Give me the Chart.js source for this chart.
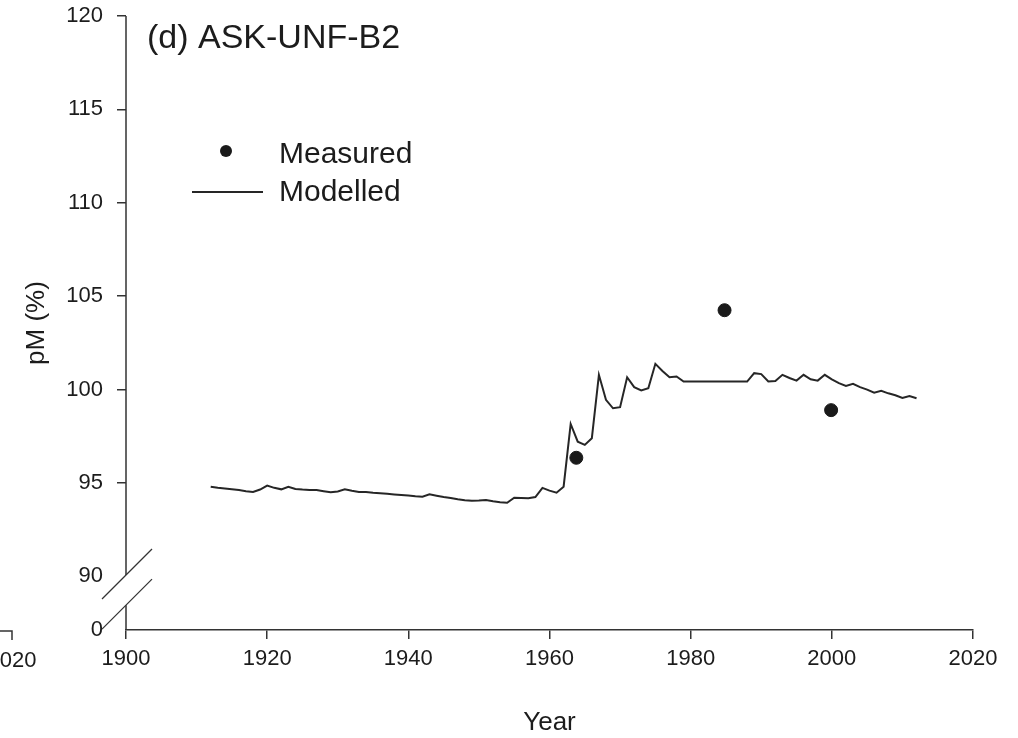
<!DOCTYPE html>
<html>
<head>
<meta charset="utf-8">
<script src="https://cdn.jsdelivr.net/npm/chart.js@4.4.1/dist/chart.umd.min.js"></script>
<style>
  html, body { margin: 0; padding: 0; background: #fff; }
</style>
</head>
<body>
<canvas id="grafico" width="1018" height="738"></canvas>
<script>
// modelled pM, one value per year
var modelYears = [
  1912, 1913, 1914, 1915, 1916, 1917, 1918, 1919, 1920, 1921,
  1922, 1923, 1924, 1925, 1926, 1927, 1928, 1929, 1930, 1931,
  1932, 1933, 1934, 1935, 1936, 1937, 1938, 1939, 1940, 1941,
  1942, 1943, 1944, 1945, 1946, 1947, 1948, 1949, 1950, 1951,
  1952, 1953, 1954, 1955, 1956, 1957, 1958, 1959, 1960, 1961,
  1962, 1963, 1964, 1965, 1966, 1967, 1968, 1969, 1970, 1971,
  1972, 1973, 1974, 1975, 1976, 1977, 1978, 1979, 1980, 1981,
  1982, 1983, 1984, 1985, 1986, 1987, 1988, 1989, 1990, 1991,
  1992, 1993, 1994, 1995, 1996, 1997, 1998, 1999, 2000, 2001,
  2002, 2003, 2004, 2005, 2006, 2007, 2008, 2009, 2010, 2011,
  2012
];
var modelPm = [
  94.80, 94.74, 94.70, 94.66, 94.62, 94.56, 94.52, 94.65, 94.86, 94.74,
  94.66, 94.80, 94.68, 94.65, 94.63, 94.62, 94.56, 94.50, 94.55, 94.66,
  94.58, 94.52, 94.52, 94.48, 94.45, 94.42, 94.39, 94.36, 94.33, 94.29,
  94.27, 94.39, 94.32, 94.25, 94.20, 94.13, 94.08, 94.05, 94.06, 94.09,
  94.02, 93.97, 93.94, 94.21, 94.20, 94.18, 94.25, 94.74, 94.59, 94.48,
  94.80, 98.16, 97.21, 97.04, 97.40, 100.79, 99.45, 99.00, 99.06, 100.66,
  100.13, 99.95, 100.07, 101.38, 101.00, 100.66, 100.70, 100.43, 100.43, 100.43,
  100.43, 100.43, 100.43, 100.43, 100.43, 100.43, 100.43, 100.88, 100.83, 100.43,
  100.46, 100.79, 100.62, 100.48, 100.79, 100.55, 100.48, 100.79, 100.55, 100.35,
  100.20, 100.31, 100.13, 100.00, 99.83, 99.93, 99.80, 99.70, 99.55, 99.66,
  99.54
];

// measured samples
var measuredYears = [1963.8, 1984.8, 1999.9];
var measuredPm = [96.35, 104.25, 98.9];

// axis ticks; the y axis is broken below 90 and its bottom stands for 0
var xTicks = [1900, 1920, 1940, 1960, 1980, 2000, 2020];
var yTicks = [90, 95, 100, 105, 110, 115, 120];
var yBottom = 87.13;
var yBottomLabel = '0';
var gapTop = 90.07, gapBottom = 88.46;

var panelTitle = '(d) ASK-UNF-B2';
var xTitle = 'Year';
var yTitle = 'pM (%)';
var cutLabel = '2020';

var ink = '#1c1c1c';
var fuente = "'Liberation Sans', Arial, sans-serif";

function pares(xs, ys){
  return xs.map(function(x, i){ return {x: x, y: ys[i]}; });
}

// y axis line with the break, panel title, legend and the cut-off neighbour axis
var decorado = {
  id: 'decorado',
  afterDraw: function(chart){
    var ctx = chart.ctx;
    var ys = chart.scales.y, xs = chart.scales.x;
    var a = chart.chartArea;
    ctx.save();
    ctx.strokeStyle = '#333';
    ctx.lineWidth = 1.5;

    var gTop = ys.getPixelForValue(gapTop);
    var gBot = ys.getPixelForValue(gapBottom);
    ctx.beginPath();
    ctx.moveTo(a.left, a.top); ctx.lineTo(a.left, gTop);
    ctx.moveTo(a.left, gBot); ctx.lineTo(a.left, a.bottom);
    ctx.stroke();

    // break marks
    ctx.lineWidth = 1.3;
    [gTop, gBot].forEach(function(py){
      ctx.beginPath();
      ctx.moveTo(a.left - 24, py + 24);
      ctx.lineTo(a.left + 26, py - 26);
      ctx.stroke();
    });

    // neighbouring panel edge
    var by = xs.top + 1;
    ctx.lineWidth = 1.5;
    ctx.beginPath();
    ctx.moveTo(0, by); ctx.lineTo(12, by); ctx.lineTo(12, by + 9);
    ctx.stroke();
    ctx.fillStyle = ink;
    ctx.font = '22px ' + fuente;
    ctx.textAlign = 'center';
    ctx.textBaseline = 'middle';
    ctx.fillText(cutLabel, 12, 661);

    // panel title
    ctx.textAlign = 'left';
    ctx.textBaseline = 'alphabetic';
    ctx.font = '34px ' + fuente;
    ctx.fillText(panelTitle, 147, 48);

    // legend
    var dsM = chart.data.datasets[0], dsL = chart.data.datasets[1];
    ctx.font = '30px ' + fuente;
    ctx.textBaseline = 'middle';
    ctx.fillStyle = dsM.backgroundColor;
    ctx.beginPath();
    ctx.arc(226, 151, 6, 0, Math.PI * 2);
    ctx.fill();
    ctx.fillStyle = ink;
    ctx.fillText(dsM.label, 279, 155);
    ctx.strokeStyle = dsL.borderColor;
    ctx.lineWidth = dsL.borderWidth;
    ctx.beginPath();
    ctx.moveTo(192, 192); ctx.lineTo(263, 192);
    ctx.stroke();
    ctx.fillText(dsL.label, 279, 193);
    ctx.restore();
  }
};

var grafico = new Chart(document.getElementById('grafico'), {
  type: 'scatter',
  data: {
    datasets: [
      {
        label: 'Measured',
        data: pares(measuredYears, measuredPm),
        backgroundColor: '#1a1a1a',
        borderColor: '#1a1a1a',
        pointRadius: 6.5,
        pointHoverRadius: 6.5,
        showLine: false
      },
      {
        label: 'Modelled',
        data: pares(modelYears, modelPm),
        borderColor: '#262626',
        borderWidth: 2,
        pointRadius: 0,
        showLine: true,
        tension: 0
      }
    ]
  },
  options: {
    responsive: false,
    animation: false,
    layout: { padding: { left: 0, right: 45, top: 16, bottom: 0 } },
    plugins: { legend: { display: false }, tooltip: { enabled: false } },
    scales: {
      x: {
        type: 'linear',
        min: xTicks[0],
        max: xTicks[xTicks.length - 1],
        afterBuildTicks: function(s){ s.ticks = xTicks.map(function(v){ return {value: v}; }); },
        afterFit: function(s){ s.height = 108; },
        grid: { drawOnChartArea: false, drawTicks: true, tickLength: 9, tickColor: '#333', lineWidth: 1.5 },
        border: { display: true, color: '#333', width: 1.5 },
        ticks: {
          color: ink, font: { family: fuente, size: 22 }, padding: 7, maxRotation: 0,
          callback: function(v){ return String(v); }
        },
        title: { display: true, text: xTitle, color: ink, font: { family: fuente, size: 26 }, padding: { top: 0, bottom: 0 } }
      },
      y: {
        type: 'linear',
        min: yBottom,
        max: yTicks[yTicks.length - 1],
        afterBuildTicks: function(s){
          s.ticks = [{value: yBottom}].concat(yTicks.map(function(v){ return {value: v}; }));
        },
        afterFit: function(s){
          s.width = 126;
          s.paddingTop = 0;
          s.paddingBottom = 0;
        },
        grid: {
          drawOnChartArea: false, drawTicks: true, tickLength: 9, lineWidth: 1.5,
          tickColor: function(c){ return c.tick && c.tick.value <= 90 ? 'rgba(0,0,0,0)' : '#333'; }
        },
        border: { display: false },
        ticks: {
          color: ink, font: { family: fuente, size: 22 }, padding: 14,
          callback: function(v){ return v === yBottom ? yBottomLabel : String(v); }
        },
        title: { display: true, text: yTitle, color: ink, font: { family: fuente, size: 26 }, padding: { top: 21, bottom: 0 } }
      }
    }
  },
  plugins: [decorado]
});
</script>
</body>
</html>
